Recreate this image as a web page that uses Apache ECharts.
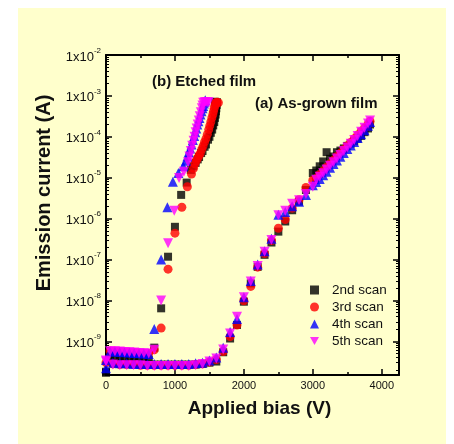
<!DOCTYPE html>
<html>
<head>
<meta charset="utf-8">
<script src="https://cdn.jsdelivr.net/npm/echarts@6/dist/echarts.min.js"></script>
<style>
  html, body { margin: 0; padding: 0; background: #fff; }
  #chart { width: 454px; height: 444px; }
</style>
</head>
<body>
<div id="chart"></div>
<script>
// etched film, one pair of arrays per scan (bias V, current A)
const etched2V = [0, 60, 130, 200, 270, 340, 410, 480, 550, 620, 700, 800, 900, 1000, 1090, 1170, 1230, 1260, 1300, 1330, 1350, 1380, 1400, 1430, 1450, 1480, 1500, 1520, 1540, 1555, 1570, 1580, 1590, 1595, 1600, 1605, 1610, 1580];
const etched2I = [1.8e-10, 3.8e-10, 3.7e-10, 3.6e-10, 3.6e-10, 3.5e-10, 3.5e-10, 3.5e-10, 3.5e-10, 3.5e-10, 7e-10, 6.4e-9, 1.17e-7, 6.3e-7, 3.8e-6, 7.6e-6, 1.55e-5, 1.9e-5, 2.3e-5, 2.8e-5, 3.2e-5, 4e-5, 4.5e-5, 5.7e-5, 6.5e-5, 8.5e-5, 1.0e-4, 1.25e-4, 1.5e-4, 1.9e-4, 2.3e-4, 2.9e-4, 3.5e-4, 4.2e-4, 5e-4, 6e-4, 7e-4, 7.2e-4];

const etched3V = [60, 130, 200, 270, 340, 410, 480, 550, 620, 700, 800, 900, 1000, 1100, 1180, 1240, 1270, 1290, 1310, 1330, 1350, 1370, 1390, 1410, 1430, 1450, 1470, 1490, 1505, 1520, 1535, 1550, 1560, 1570, 1580, 1590, 1600, 1610, 1630];
const etched3I = [5.8e-10, 5.7e-10, 5.6e-10, 5.5e-10, 5.4e-10, 5.3e-10, 5.2e-10, 5.1e-10, 5.0e-10, 6.2e-10, 2.1e-9, 5.8e-8, 4.4e-7, 1.9e-6, 6e-6, 1.23e-5, 1.7e-5, 2.2e-5, 2.6e-5, 3e-5, 3.5e-5, 4e-5, 5e-5, 6e-5, 7.5e-5, 9e-5, 1.15e-4, 1.5e-4, 1.85e-4, 2.3e-4, 2.9e-4, 3.5e-4, 4.2e-4, 5e-4, 5.8e-4, 6.5e-4, 6.9e-4, 7e-4, 6.8e-4];

const etched4V = [0, 60, 130, 200, 270, 340, 410, 480, 550, 620, 700, 800, 890, 970, 1050, 1120, 1160, 1180, 1200, 1220, 1240, 1260, 1280, 1295, 1310, 1325, 1340, 1355, 1370, 1385, 1400, 1410, 1420, 1430, 1440];
const etched4I = [3.5e-10, 5.6e-10, 5.6e-10, 5.5e-10, 5.4e-10, 5.3e-10, 5.2e-10, 5.1e-10, 5.0e-10, 4.9e-10, 2.0e-9, 1.0e-7, 1.9e-6, 8e-6, 1.3e-5, 1.9e-5, 2.6e-5, 3.3e-5, 4.2e-5, 5.2e-5, 6.5e-5, 8.3e-5, 1.05e-4, 1.3e-4, 1.6e-4, 2e-4, 2.4e-4, 2.9e-4, 3.5e-4, 4.2e-4, 5e-4, 5.7e-4, 6.5e-4, 7.2e-4, 7.8e-4];

const etched5V = [0, 60, 130, 200, 270, 340, 410, 480, 550, 620, 700, 800, 900, 990, 1060, 1130, 1190, 1210, 1230, 1250, 1270, 1285, 1300, 1315, 1330, 1345, 1360, 1375, 1390, 1400, 1410, 1430, 1450, 1470, 1490];
const etched5I = [3.4e-10, 5.7e-10, 5.7e-10, 5.6e-10, 5.5e-10, 5.4e-10, 5.3e-10, 5.2e-10, 5.1e-10, 5.0e-10, 6.2e-10, 1.0e-8, 2.5e-7, 1.55e-6, 9.8e-6, 1.4e-5, 2.4e-5, 3.3e-5, 4.5e-5, 6e-5, 8e-5, 1.0e-4, 1.3e-4, 1.6e-4, 2.0e-4, 2.5e-4, 3.2e-4, 4e-4, 5e-4, 5.8e-4, 6.8e-4, 7e-4, 7e-4, 7e-4, 7e-4];

// as-grown film, same bias steps for every scan
const grownV = [0, 100, 200, 300, 400, 500, 600, 700, 800, 900, 1000, 1100, 1200, 1300, 1400, 1500,
  1600, 1700, 1800, 1900, 2000, 2100, 2200, 2300, 2400, 2500, 2600, 2700, 2800, 2900, 3000,
  3050, 3100, 3150, 3200, 3250, 3300, 3350, 3400, 3450, 3500, 3550, 3600, 3650, 3700, 3750, 3800, 3830];
const grown2I = [1.7e-10, 2.9e-10, 2.8e-10, 2.8e-10, 2.8e-10, 2.7e-10, 2.7e-10, 2.7e-10, 2.7e-10, 2.7e-10, 2.7e-10, 2.7e-10, 2.7e-10, 2.7e-10, 2.8e-10, 3.0e-10,
  3.2e-10, 5.4e-10, 1.17e-9, 2.5e-9, 9.3e-9, 2.6e-8, 6.6e-8, 1.3e-7, 2.6e-7, 4.8e-7, 8.5e-7, 1.6e-6, 2.6e-6, 5e-6, 1.3e-5,
  1.5e-5, 1.9e-5, 2.5e-5, 4.2e-5, 2.9e-5, 3.3e-5, 4.2e-5, 4.6e-5, 5.2e-5, 6.0e-5, 6.8e-5, 7.8e-5, 9.0e-5, 1.05e-4, 1.3e-4, 1.6e-4, 2.0e-4];
const grown3I = [3.0e-10, 2.8e-10, 2.7e-10, 2.7e-10, 2.7e-10, 2.6e-10, 2.6e-10, 2.6e-10, 2.6e-10, 2.6e-10, 2.6e-10, 2.6e-10, 2.6e-10, 2.7e-10, 2.8e-10, 3.1e-10,
  3.6e-10, 5.6e-10, 1.3e-9, 2.5e-9, 9.8e-9, 2.2e-8, 6.5e-8, 1.4e-7, 2.9e-7, 5.8e-7, 9.5e-7, 1.8e-6, 2.9e-6, 5.8e-6, 8.7e-6,
  9.5e-6, 1.2e-5, 1.45e-5, 1.8e-5, 2.2e-5, 2.7e-5, 3.3e-5, 4.0e-5, 4.9e-5, 6.0e-5, 7.3e-5, 9e-5, 1.1e-4, 1.35e-4, 1.65e-4, 2.0e-4, 2.4e-4];
const grown4I = [2.2e-10, 3.0e-10, 2.9e-10, 2.9e-10, 2.8e-10, 2.8e-10, 2.8e-10, 2.8e-10, 2.8e-10, 2.8e-10, 2.8e-10, 2.8e-10, 2.8e-10, 2.9e-10, 3.0e-10, 3.4e-10,
  4.0e-10, 7.0e-10, 1.7e-9, 3.5e-9, 1.2e-8, 3.0e-8, 7.5e-8, 1.6e-7, 3.2e-7, 1.25e-6, 1.45e-6, 2.0e-6, 2.6e-6, 3.8e-6, 6.5e-6,
  7.8e-6, 9.3e-6, 1.15e-5, 1.4e-5, 1.75e-5, 2.15e-5, 2.65e-5, 3.25e-5, 4.0e-5, 5.0e-5, 6.1e-5, 7.5e-5, 9.3e-5, 1.16e-4, 1.45e-4, 1.85e-4, 2.3e-4];
const grown5I = [3.2e-10, 2.7e-10, 2.6e-10, 2.6e-10, 2.6e-10, 2.6e-10, 2.5e-10, 2.5e-10, 2.5e-10, 2.5e-10, 2.5e-10, 2.5e-10, 2.5e-10, 2.6e-10, 2.8e-10, 3.2e-10,
  3.8e-10, 6.3e-10, 1.55e-9, 4.0e-9, 1.2e-8, 2.9e-8, 6.9e-8, 1.55e-7, 3.0e-7, 1.2e-6, 1.55e-6, 2.3e-6, 2.8e-6, 4.0e-6, 6.0e-6,
  8.9e-6, 1.05e-5, 1.29e-5, 1.58e-5, 1.95e-5, 2.4e-5, 2.95e-5, 3.6e-5, 4.5e-5, 5.5e-5, 6.8e-5, 8.3e-5, 1.05e-4, 1.32e-4, 1.66e-4, 2.1e-4, 2.5e-4];

const scanNames = ['2nd scan', '3rd scan', '4th scan', '5th scan'];
const xTicks = [0, 1000, 2000, 3000, 4000];

const font = '"Liberation Sans", Arial, sans-serif';
const scans = [
  { name: scanNames[0], color: '#000000', symbol: 'rect', size: 8, ev: etched2V, ei: etched2I, gi: grown2I },
  { name: scanNames[1], color: '#ff0000', symbol: 'circle', size: 9, ev: etched3V, ei: etched3I, gi: grown3I },
  { name: scanNames[2], color: '#0000ff', symbol: 'triangle', size: 10, ev: etched4V, ei: etched4I, gi: grown4I },
  { name: scanNames[3], color: '#ff00ff', symbol: 'path://M0,0L10,0L5,9Z', size: 10, ev: etched5V, ei: etched5I, gi: grown5I }
];

function pts(v, c) {
  return v.map((x, k) => [x, c[k]]);
}

const series = [];
scans.forEach((s) => {
  series.push({
    name: s.name, type: 'scatter', symbol: s.symbol, symbolSize: s.size,
    itemStyle: { color: s.color }, data: pts(grownV, s.gi)
  });
  series.push({
    name: s.name, type: 'scatter', symbol: s.symbol, symbolSize: s.size,
    itemStyle: { color: s.color }, data: pts(s.ev, s.ei)
  });
});

function logLabel(v) {
  const e = Math.round(Math.log10(v));
  if (Math.abs(Math.log10(v) - e) > 0.01) return '';
  return '{a|1x10}{b|' + e + '}';
}

const axisLine = { show: true, onZero: false, lineStyle: { color: '#000', width: 2 } };
const tickStyle = { color: '#000', width: 1.5 };

const chart = echarts.init(document.getElementById('chart'));
chart.setOption({
  backgroundColor: '#ffffff',
  animation: false,
  textStyle: { fontFamily: font },
  grid: { left: 106, right: 55, top: 55, bottom: 69 },
  graphic: [
    { type: 'rect', z: -100, silent: true, shape: { x: 18, y: 8, width: 428, height: 436 }, style: { fill: '#ffffcc' } },
    { type: 'text', left: 152, top: 74, style: { text: '(b) Etched film', font: 'bold 15px ' + font, fill: '#111' } },
    { type: 'text', left: 255, top: 96, style: { text: '(a) As-grown film', font: 'bold 15px ' + font, fill: '#111' } }
  ],
  legend: {
    data: scanNames, orient: 'vertical', left: 305, top: 278,
    itemWidth: 9, itemHeight: 9, itemGap: 3,
    textStyle: { fontSize: 13.5, color: '#111', fontFamily: font, padding: [0, 0, 0, 8] }
  },
  xAxis: [{
    type: 'value', min: 0, max: 4250, interval: 1000,
    axisLine: axisLine,
    axisTick: { inside: true, length: 6, lineStyle: tickStyle },
    minorTick: { show: true, splitNumber: 2, length: 3, lineStyle: tickStyle },
    splitLine: { show: false },
    axisLabel: {
      margin: 5, fontSize: 11, color: '#111',
      formatter: (v) => (xTicks.indexOf(v) >= 0 ? String(v) : '')
    },
    name: 'Applied bias (V)', nameLocation: 'middle', nameGap: 24,
    nameTextStyle: { fontSize: 19, fontWeight: 'bold', color: '#111', padding: [0, 0, 0, 14] }
  }, {
    type: 'value', position: 'top', min: 0, max: 4250, interval: 1000,
    axisLine: axisLine,
    axisTick: { inside: true, length: 6, lineStyle: tickStyle },
    minorTick: { show: true, splitNumber: 2, length: 3, lineStyle: tickStyle },
    splitLine: { show: false }, axisLabel: { show: false }
  }],
  yAxis: [{
    type: 'log', logBase: 10, min: 1.5e-10, max: 1e-2, splitNumber: 8,
    axisLine: axisLine,
    axisTick: { inside: true, length: 6, lineStyle: tickStyle },
    minorTick: { show: true, splitNumber: 9, length: 3, lineStyle: { color: '#000', width: 1 } },
    splitLine: { show: false },
    axisLabel: {
      margin: 5, color: '#111', formatter: logLabel,
      rich: {
        a: { fontSize: 13, lineHeight: 17, verticalAlign: 'bottom', color: '#111', fontFamily: font },
        b: { fontSize: 8, lineHeight: 17, verticalAlign: 'top', color: '#111', fontFamily: font }
      }
    },
    name: 'Emission current (A)', nameLocation: 'middle', nameGap: 43,
    nameTextStyle: { fontSize: 20, fontWeight: 'bold', color: '#111', padding: [0, 0, 0, 44] }
  }, {
    type: 'log', logBase: 10, min: 1.5e-10, max: 1e-2, splitNumber: 8, position: 'right',
    axisLine: axisLine,
    axisTick: { inside: true, length: 6, lineStyle: tickStyle },
    minorTick: { show: true, splitNumber: 9, length: 3, lineStyle: { color: '#000', width: 1 } },
    splitLine: { show: false }, axisLabel: { show: false }
  }],
  series: series
});
</script>
</body>
</html>
